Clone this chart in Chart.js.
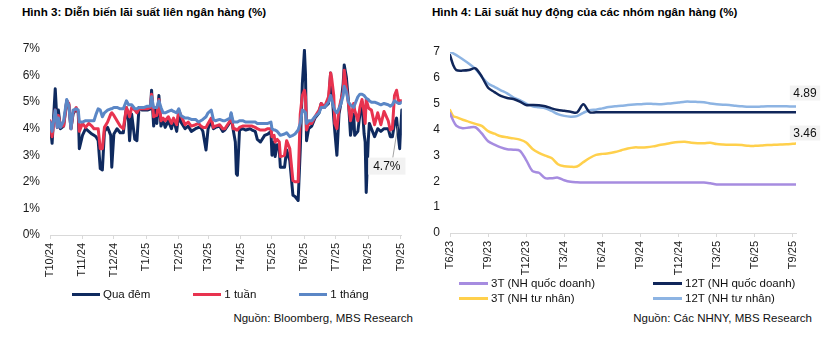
<!DOCTYPE html>
<html>
<head>
<meta charset="utf-8">
<script src="https://cdn.jsdelivr.net/npm/chart.js@4.4.1/dist/chart.umd.min.js"></script>
<style>
  html, body { margin: 0; padding: 0; background: #fff; }
  #page { position: relative; width: 837px; height: 349px; overflow: hidden;
          font-family: "Liberation Sans", Arial, sans-serif; color: #000; }
  .title { position: absolute; top: 5px; font-weight: bold; font-size: 11.6px; line-height: 14px; white-space: nowrap; }
  .src { position: absolute; top: 311px; font-size: 11.5px; line-height: 14px; white-space: nowrap; color: #111; }
  canvas { position: absolute; top: 0; }
  .legend { position: absolute; font-size: 11.5px; color: #111; }
  #lg1 { left: 72px; top: 287px; display: flex; gap: 43px; }
  #lg2 { left: 459px; top: 276px; display: grid; grid-template-columns: 194px auto; row-gap: 1px; }
  .item { display: flex; align-items: center; height: 14px; white-space: nowrap; }
  .item i { display: inline-block; height: 3px; margin-right: 3px; }
  #lg1 .item i { width: 28px; }
  #lg2 .item i { width: 29px; }
</style>
</head>
<body>
<div id="page">
  <div class="title" style="left:22px">Hình 3: Diễn biến lãi suất liên ngân hàng (%)</div>
  <div class="title" style="left:432px">Hình 4: Lãi suất huy động của các nhóm ngân hàng (%)</div>
  <canvas id="c1" width="418" height="290" style="left:0"></canvas>
  <canvas id="c2" width="419" height="290" style="left:418px"></canvas>
  <div id="lg1" class="legend"></div>
  <div id="lg2" class="legend"></div>
  <div class="src" style="right:424px">Nguồn: Bloomberg, MBS Research</div>
  <div class="src" style="right:25px">Nguồn: Các NHNY, MBS Research</div>
</div>
<script>
// ---- Interbank rates (%), x = days since 1 Oct 2024 ----
const interbankMonths = ['T10/24','T11/24','T12/24','T1/25','T2/25','T3/25','T4/25','T5/25','T6/25','T7/25','T8/25','T9/25'];
const days = [
  0,2,5,7,8,10,13,16,18,20,
  22,25,27,28,31,34,37,40,42,44,
  46,48,50,52,55,58,59,61,64,67,
  70,73,75,76,78,81,83,85,88,90,
  93,96,97,99,101,102,104,106,108,110,
  113,116,118,121,123,125,129,132,135,139,
  142,144,146,149,151,154,156,158,162,165,
  167,172,173,175,177,178,179,181,184,187,
  191,193,196,198,201,205,208,211,212,214,
  215,217,219,220,224,226,229,232,234,237,
  239,241,243,244,245,247,250,253,257,259,
  262,266,268,269,271,272,274,276,278,280,
  281,283,285,287,290,291,294,296,298,300,
  301,302,304,305,307,310,313,316,319,323,
  325,327,329,331,333,334,336
];
const overnight = [
  4.25,3.45,5.5,4.05,4.7,4.0,4.1,5.05,4.9,4.0,
  4.55,4.75,4.6,3.25,3.75,4.0,3.9,3.8,3.75,3.7,
  3.55,2.5,2.45,3.9,4.05,3.75,2.55,3.8,4.0,3.85,
  3.85,4.8,4.3,3.55,4.55,3.6,3.55,4.8,4.7,4.7,
  4.7,4.75,5.45,4.1,4.8,4.2,5.25,4.1,4.35,4.05,
  4.3,4.0,4.35,3.9,4.6,4.25,4.0,4.1,3.9,4.0,
  4.05,4.05,3.9,3.2,4.0,4.3,4.0,4.05,4.1,3.9,
  3.95,4.25,4.55,3.95,3.5,2.3,2.25,3.95,4.0,3.95,
  4.0,3.95,3.9,3.6,3.5,3.75,3.8,3.9,3.0,3.5,
  2.95,3.4,3.2,2.55,2.55,3.2,2.8,1.5,1.45,1.3,
  3.2,5.7,6.95,6.05,3.55,4.0,4.1,4.4,4.6,4.95,
  4.8,4.95,6.1,5.6,4.4,3.9,3.0,4.55,5.0,5.7,
  6.4,5.95,5.05,3.75,4.55,3.75,3.9,4.55,5.0,3.8,
  3.5,1.6,3.6,4.2,4.0,3.7,4.0,3.9,4.0,4.0,
  3.7,3.7,4.2,4.4,3.6,3.25,4.7
];
const oneWeek = [
  4.3,3.7,4.7,4.05,4.5,4.1,4.1,5.05,4.95,4.0,
  4.6,4.8,4.6,3.9,4.2,4.05,4.2,4.1,4.0,4.0,
  4.0,3.25,3.25,4.05,4.25,4.55,4.6,4.5,4.3,4.1,
  4.0,4.8,4.6,4.45,4.8,4.7,4.6,4.75,4.75,4.75,
  4.75,4.8,5.3,4.45,4.5,4.5,5.1,4.3,4.4,4.3,
  4.45,4.2,4.4,4.15,4.7,4.5,4.15,4.25,4.1,4.15,
  4.2,4.1,4.05,4.05,4.2,4.4,4.05,4.1,4.15,4.0,
  4.0,4.3,4.5,4.0,4.0,3.95,3.95,4.05,4.1,4.1,
  4.1,4.1,4.05,4.0,3.95,3.95,4.0,4.0,3.7,3.75,
  3.5,3.6,3.5,2.95,3.0,3.55,3.25,2.05,2.0,2.0,
  4.55,5.25,5.45,5.2,3.95,4.2,4.2,4.45,4.7,4.95,
  4.8,5.2,6.1,5.9,5.25,4.2,4.0,4.75,5.1,5.4,
  6.2,5.55,4.95,4.3,4.95,4.7,4.3,4.8,5.1,4.6,
  4.2,5.1,4.8,4.75,4.7,4.15,4.6,4.15,4.65,4.3,
  3.95,4.0,5.25,5.45,5.0,5.05,5.05
];
const oneMonth = [
  4.25,3.9,4.7,4.05,4.4,4.05,4.3,5.1,4.85,4.0,
  4.7,4.75,4.7,4.25,4.25,4.3,4.3,4.3,4.3,4.55,
  4.75,4.7,4.45,4.6,4.7,4.75,4.75,4.8,4.8,4.75,
  4.75,5.05,4.9,4.9,4.9,4.75,4.75,4.8,4.8,4.8,
  4.85,4.85,5.2,4.8,4.8,4.8,5.05,4.8,4.6,4.6,
  4.65,4.7,4.65,4.6,4.75,4.5,4.4,4.4,4.35,4.35,
  4.25,4.3,4.35,4.45,4.6,4.7,4.35,4.3,4.35,4.3,
  4.3,4.4,4.6,4.25,4.25,4.25,4.25,4.3,4.3,4.25,
  4.25,4.25,4.25,4.2,4.2,4.2,4.2,4.25,4.0,3.95,
  3.95,3.9,3.8,3.75,3.8,3.85,3.7,3.75,3.8,3.95,
  4.2,4.7,4.65,4.6,4.2,4.3,4.3,4.45,4.6,4.8,
  4.8,5.0,5.25,5.1,4.8,4.7,4.6,4.75,4.95,5.25,
  5.6,5.4,5.0,4.9,4.8,4.9,5.2,5.3,5.3,5.25,
  5.2,5.15,5.1,5.05,5.0,5.0,4.95,4.9,4.95,4.9,
  4.85,4.9,5.05,5.0,4.95,4.95,5.0
];

// ---- Deposit rates (%), x = months since Jun 2023 ----
const depositTicks = ['T6/23','T9/23','T12/23','T3/24','T6/24','T9/24','T12/24','T3/25','T6/25','T9/25'];
const months = [
  0,0.25,0.5,1,1.5,2,2.5,3,3.5,4,
  4.5,5,5.5,6,6.5,7,7.5,8,8.5,9,
  9.5,10,10.5,11,11.5,12,12.5,13,13.5,14,
  14.5,15,15.5,16,16.5,17,17.5,18,18.5,19,
  19.5,20,20.5,21,21.5,22,22.5,23,23.5,24,
  24.5,25,25.5,26,26.5,27,27.25
];
const soe3m = [
  4.63,4.35,4.15,4.05,4.08,4.09,3.85,3.55,3.42,3.31,
  3.24,3.22,3.18,2.82,2.39,2.33,2.12,2.12,2.14,2.04,
  1.98,1.96,1.95,1.95,1.95,1.95,1.95,1.95,1.95,1.95,
  1.95,1.95,1.95,1.95,1.95,1.95,1.95,1.95,1.95,1.95,
  1.95,1.95,1.92,1.88,1.88,1.88,1.88,1.88,1.88,1.88,
  1.88,1.88,1.88,1.88,1.88,1.88,1.88
];
const soe12m = [
  6.88,6.5,6.3,6.28,6.3,6.37,6.05,5.62,5.45,5.3,
  5.22,5.18,5.08,4.95,4.95,4.94,4.9,4.82,4.76,4.73,
  4.69,4.66,4.98,4.67,4.67,4.67,4.67,4.67,4.67,4.67,
  4.67,4.67,4.67,4.67,4.67,4.67,4.67,4.67,4.67,4.67,
  4.67,4.67,4.67,4.67,4.67,4.67,4.67,4.67,4.67,4.67,
  4.67,4.67,4.67,4.67,4.67,4.67,4.67
];
const private3m = [
  4.75,4.52,4.48,4.38,4.3,4.22,4.14,3.94,3.84,3.74,
  3.7,3.66,3.61,3.5,3.25,3.1,2.99,2.9,2.66,2.58,
  2.56,2.57,2.74,2.9,3.02,3.06,3.08,3.13,3.2,3.27,
  3.31,3.31,3.32,3.35,3.4,3.44,3.49,3.52,3.53,3.49,
  3.47,3.47,3.49,3.44,3.42,3.41,3.41,3.4,3.37,3.37,
  3.38,3.4,3.41,3.42,3.43,3.45,3.46
];
const private12m = [
  7.0,6.95,6.88,6.72,6.55,6.35,6.05,5.78,5.65,5.52,
  5.4,5.24,5.14,5.0,4.9,4.86,4.82,4.72,4.6,4.53,
  4.5,4.52,4.65,4.75,4.77,4.82,4.87,4.9,4.92,4.95,
  4.97,4.98,5.0,4.99,4.98,5.0,5.02,5.05,5.08,5.08,
  5.07,5.06,5.01,4.98,4.96,4.95,4.92,4.9,4.88,4.88,
  4.89,4.9,4.9,4.9,4.9,4.89,4.89
];

const FONT = '"Liberation Sans", Arial, sans-serif';
Chart.defaults.font.family = FONT;
Chart.defaults.color = '#1a1a1a';

const pairs = (xs, ys) => xs.map((x, i) => ({ x, y: ys[i] }));

// day offsets of each month start, counted from 1 Oct 2024
const monthStarts = interbankMonths.map((_, i) =>
  Math.round((Date.UTC(2024, 9 + i, 1) - Date.UTC(2024, 9, 1)) / 86400000));

// value box at the end of a series, optionally with a leader line
const endLabel = {
  id: 'endLabel',
  afterDatasetsDraw(chart, args, opts) {
    const ctx = chart.ctx;
    (opts.items || []).forEach(it => {
      const ds = chart.data.datasets[it.dataset];
      const pts = chart.getDatasetMeta(it.dataset).data;
      const p = pts[pts.length - 1];
      const text = it.format(ds.data[ds.data.length - 1].y);
      ctx.save();
      ctx.font = '12px ' + FONT;
      const w = ctx.measureText(text).width + 2 * it.padX;
      const h = it.h;
      const cx = p.x + it.dx, cy = p.y + it.dy;
      if (it.leader) {
        ctx.strokeStyle = '#8c8c8c';
        ctx.lineWidth = 0.8;
        ctx.beginPath();
        ctx.moveTo(cx + 6, cy - h / 2);
        ctx.lineTo(p.x - 4, p.y + 16);
        ctx.stroke();
      }
      ctx.fillStyle = '#f2f2f2';
      ctx.fillRect(cx - w / 2, cy - h / 2, w, h);
      ctx.fillStyle = '#111';
      ctx.textAlign = 'center';
      ctx.textBaseline = 'middle';
      ctx.fillText(text, cx, cy + 0.5);
      ctx.restore();
    });
  }
};

function xAxis(max, tickValues, labels, height) {
  return {
    type: 'linear', min: 0, max,
    afterBuildTicks: s => { s.ticks = tickValues.map(v => ({ value: v })); },
    afterFit: s => { s.height = height; },
    ticks: { autoSkip: false, minRotation: 90, maxRotation: 90, padding: 4,
             font: { size: 11 }, color: '#1a1a1a', callback: (v, i) => labels[i] },
    grid: { display: true, drawOnChartArea: false, drawTicks: true, tickLength: 4, color: '#d9d9d9' },
    border: { display: true, color: '#d9d9d9', width: 1 }
  };
}
function yAxis(width, suffix) {
  return {
    min: 0, max: 7,
    afterFit: s => { s.width = width; },
    ticks: { stepSize: 1, padding: 10, font: { size: 12 }, color: '#1a1a1a', callback: v => v + suffix },
    grid: { display: false, drawTicks: false },
    border: { display: false }
  };
}

const chart1 = new Chart(document.getElementById('c1'), {
  type: 'line',
  data: {
    datasets: [
      { label: 'Qua đêm', data: pairs(days, overnight), borderColor: '#0f2a5f', order: 3 },
      { label: '1 tuần',  data: pairs(days, oneWeek),   borderColor: '#e8334f', order: 2 },
      { label: '1 tháng', data: pairs(days, oneMonth),  borderColor: '#5b87c6', order: 1 }
    ]
  },
  options: {
    responsive: false, animation: false,
    layout: { padding: { top: 49, right: 12, left: 0, bottom: 0 } },
    elements: { point: { radius: 0 },
                line: { borderWidth: 3, tension: 0, borderJoinStyle: 'round', borderCapStyle: 'round' } },
    plugins: {
      legend: { display: false }, tooltip: { enabled: false },
      endLabel: { items: [ { dataset: 0, format: v => v.toFixed(1) + '%', dx: -15, dy: 56, padX: 5, h: 17, leader: true } ] }
    },
    scales: {
      x: xAxis(336, monthStarts, interbankMonths, 55),
      y: yAxis(50, '%')
    }
  },
  plugins: [endLabel]
});

const chart2 = new Chart(document.getElementById('c2'), {
  type: 'line',
  data: {
    datasets: [
      { label: '3T (NH quốc doanh)',  data: pairs(months, soe3m),      borderColor: '#a68ce0' },
      { label: '12T (NH quốc doanh)', data: pairs(months, soe12m),     borderColor: '#10265a' },
      { label: '3T (NH tư nhân)',     data: pairs(months, private3m),  borderColor: '#ffd04c' },
      { label: '12T (NH tư nhân)',    data: pairs(months, private12m), borderColor: '#8db4e3' }
    ]
  },
  options: {
    responsive: false, animation: false,
    layout: { padding: { top: 52, right: 41, left: 0, bottom: 0 } },
    elements: { point: { radius: 0 },
                line: { borderWidth: 2.5, tension: 0.3, borderJoinStyle: 'round', borderCapStyle: 'round' } },
    plugins: {
      legend: { display: false }, tooltip: { enabled: false },
      endLabel: { items: [
        { dataset: 3, format: v => v.toFixed(2), dx: 9, dy: -13.5, padX: 3.5, h: 15 },
        { dataset: 2, format: v => v.toFixed(2), dx: 9, dy: -10.5, padX: 3.5, h: 15 }
      ] }
    },
    scales: {
      x: xAxis(27.25, depositTicks.map((_, i) => i * 3), depositTicks, 57),
      y: yAxis(32, '')
    }
  },
  plugins: [endLabel]
});

// HTML legends built from the datasets
function buildLegend(chart, el) {
  chart.data.datasets.forEach(ds => {
    const item = document.createElement('div');
    item.className = 'item';
    const sw = document.createElement('i');
    sw.style.background = ds.borderColor;
    const tx = document.createElement('span');
    tx.textContent = ds.label;
    item.append(sw, tx);
    el.append(item);
  });
}
buildLegend(chart1, document.getElementById('lg1'));
buildLegend(chart2, document.getElementById('lg2'));
</script>
</body>
</html>
